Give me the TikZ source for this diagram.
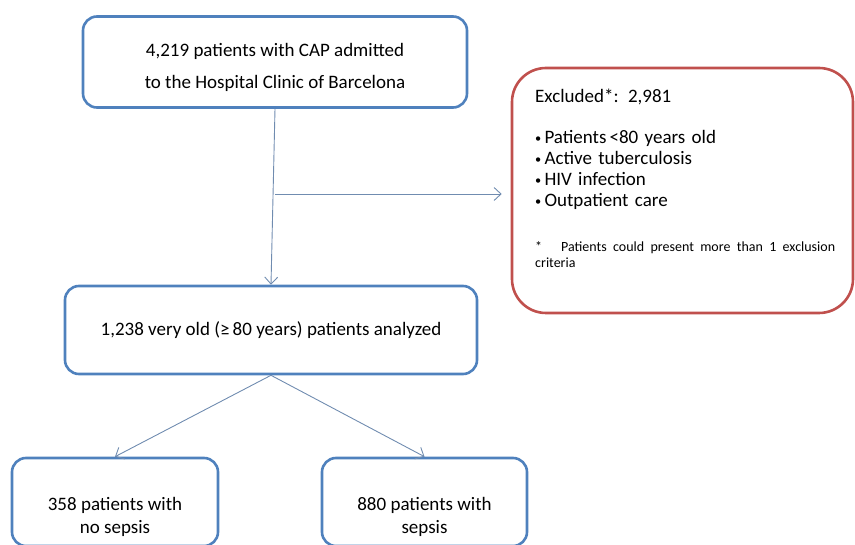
\documentclass[tikz,border=0pt]{standalone}
\usepackage{fontspec}
\usepackage{graphicx}
\setmainfont{Carlito}
\usetikzlibrary{arrows.meta}
\definecolor{boxblue}{RGB}{79,129,189}
\definecolor{boxred}{RGB}{192,80,77}
\definecolor{arrowgray}{RGB}{112,140,176}
\newcommand{\smallbullet}{\raisebox{1.5pt}{\scalebox{0.65}{\textbullet}}}
\tikzset{
  flowbox/.style={draw=boxblue, line width=2.6pt, rounded corners=14pt, align=center},
  flowtext/.style={align=center, inner sep=0pt, font=\fontsize{19}{23}\selectfont},
  flowarrow/.style={draw=arrowgray, line width=0.9pt, -{Straight Barb[length=7pt,width=13pt]}}
}
\begin{document}
\begin{tikzpicture}[x=1pt,y=-1pt]
\useasboundingbox (0,0) rectangle (855,545);
% boxes
\node[flowbox, minimum width=384pt, minimum height=91pt] (admitted) at (275,62) {};
\node[flowtext, font=\fontsize{19}{32}\selectfont] (admittedtext) at (275,67)
  {4,219 patients with CAP admitted\\to the Hospital Clinic of Barcelona};
\node[flowbox, minimum width=412pt, minimum height=88pt,
  font=\fontsize{19}{23}\selectfont] (analyzed) at (271,330)
  {1,238 very old (≥\,80 years) patients analyzed};
\node[flowbox, minimum width=206pt, minimum height=88pt] (nosepsis) at (115,502) {};
\node[flowbox, minimum width=205pt, minimum height=88pt] (sepsis) at (424.5,502) {};
\node[flowtext] (nosepsistext) at (115,517) {358 patients with\\no sepsis};
\node[flowtext] (sepsistext) at (424.5,517) {880 patients with\\sepsis};
% excluded
\node[draw=boxred, line width=2.6pt, rounded corners=34pt,
  minimum width=341pt, minimum height=245pt] (excluded) at (682.5,190.5) {};
\node[anchor=north west, inner sep=0pt, align=left, text width=308pt,
  font=\fontsize{19}{21}\selectfont] (excludedtext) at (535,89)
  {Excluded*: 2,981\\[20pt]
   \smallbullet\,Patients\,<80 years old\\
   \smallbullet\,Active tuberculosis\\
   \smallbullet\,HIV infection\\
   \smallbullet\,Outpatient care\\[29pt]
   {\fontsize{14}{16}\selectfont\makebox[308pt][s]{*\ \ \ Patients could present more than 1 exclusion}\\[-5pt]criteria}};
% connectors
\coordinate (split) at (admitted.south |- 0,194);
\coordinate (exclin) at ([xshift=-9pt]excluded.west);
\draw[flowarrow] (admitted.south) -- (analyzed.north);
\draw[flowarrow] (split) -- (exclin |- split);
\foreach \n in {nosepsis, sepsis}
  \draw[flowarrow] (analyzed.south) -- (\n.north);
\end{tikzpicture}
\end{document}
